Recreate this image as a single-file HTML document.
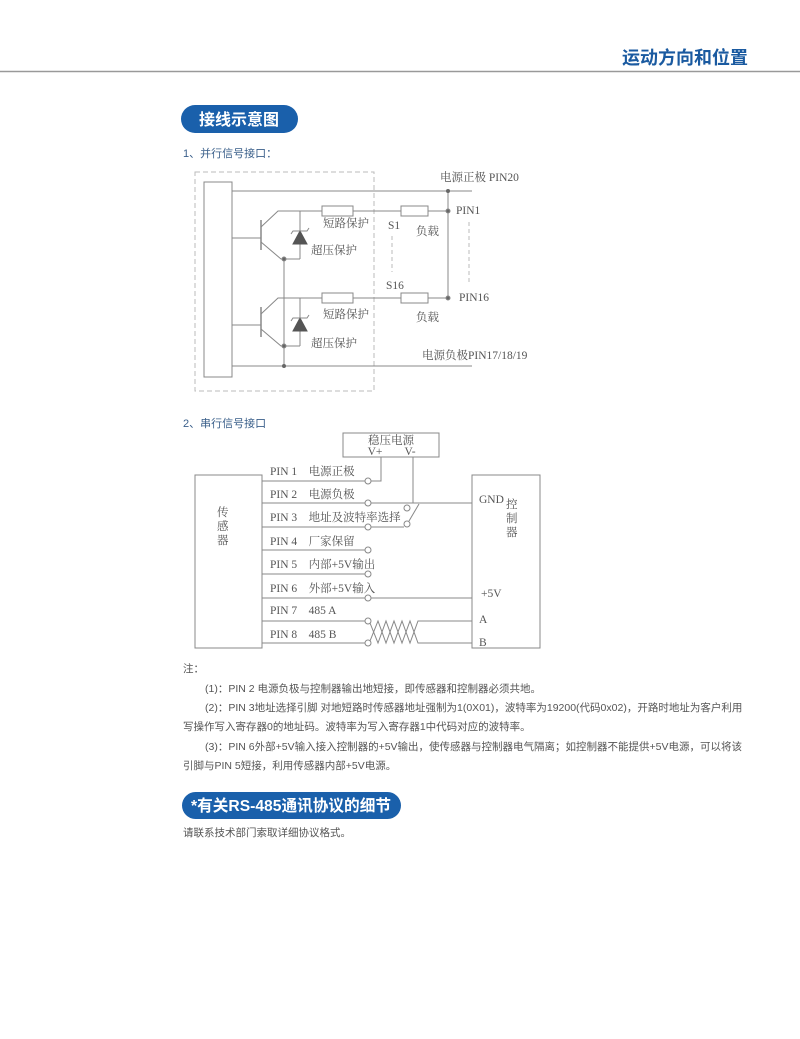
<!DOCTYPE html>
<html><head><meta charset="utf-8"><style>
body{margin:0;background:#fff;}
svg{display:block;}
.s{font-family:"Liberation Serif","Noto Serif CJK SC",serif;font-size:11.5px;fill:#555;}
.t{font-family:"Liberation Sans","Noto Sans CJK SC",sans-serif;}
</style></head><body>
<svg width="800" height="1039" viewBox="0 0 800 1039" xmlns="http://www.w3.org/2000/svg">
<rect width="800" height="1039" fill="#fff"/>
<text x="748" y="64" text-anchor="end" class="t" font-size="18" font-weight="bold" fill="#1a5aa0">运动方向和位置</text>
<line x1="0" y1="71.5" x2="800" y2="71.5" stroke="#999" stroke-width="1.5"/>
<rect x="181" y="105" width="117" height="28" rx="14" fill="#1a60ab"/>
<text x="239" y="125" text-anchor="middle" class="t" font-size="16" font-weight="bold" fill="#fff">接线示意图</text>
<text x="183" y="157" class="t" font-size="11" fill="#3a5f8a">1、并行信号接口：</text>

<g stroke="#888" stroke-width="1" fill="none">
<rect x="195" y="172" width="179" height="219" stroke-dasharray="5,3" stroke="#bbb"/>
<rect x="204" y="182" width="28" height="195"/>
<line x1="232" y1="191" x2="472" y2="191"/>
<line x1="232" y1="366" x2="472" y2="366"/>
<line x1="448" y1="191" x2="448" y2="297"/>
<line x1="284" y1="259" x2="284" y2="366"/>
<line x1="392" y1="236" x2="392" y2="272" stroke-dasharray="4,3" stroke="#bbb"/>
<line x1="469" y1="222" x2="469" y2="285" stroke-dasharray="4,3" stroke="#bbb"/>
</g>
<g id="ch" stroke="#888" stroke-width="1" fill="none">
<line x1="232" y1="238" x2="261" y2="238"/>
<line x1="261" y1="220" x2="261" y2="250" stroke-width="1.5"/>
<polyline points="261,227 278,211 322,211"/>
<polyline points="261,242 281,259 300,259"/>
<rect x="322" y="206" width="31" height="10"/>
<line x1="353" y1="211" x2="401" y2="211"/>
<rect x="401" y="206" width="27" height="10"/>
<line x1="428" y1="211" x2="448" y2="211"/>
<line x1="300" y1="211" x2="300" y2="259"/>
<polygon points="300,231 293,244 307,244" fill="#555" stroke="#555"/>
<polyline points="291,234 293,231 307,231 309,228"/>
<circle cx="284" cy="259" r="2" fill="#666"/>
<circle cx="448" cy="211" r="2" fill="#666"/>
</g>
<use href="#ch" transform="translate(0,87)"/>
<circle cx="448" cy="191" r="2" fill="#666"/>
<circle cx="284" cy="366" r="2" fill="#666"/>
<text x="440" y="181" class="s">电源正极 PIN20</text>
<text x="456" y="214" class="s">PIN1</text>
<text x="459" y="301" class="s">PIN16</text>
<text x="323" y="227" class="s">短路保护</text>
<text x="311" y="254" class="s">超压保护</text>
<text x="323" y="318" class="s">短路保护</text>
<text x="311" y="347" class="s">超压保护</text>
<text x="388" y="229" class="s">S1</text>
<text x="386" y="289" class="s">S16</text>
<text x="416" y="235" class="s">负载</text>
<text x="416" y="321" class="s">负载</text>
<text x="422" y="359" class="s">电源负极PIN17/18/19</text>

<text x="183" y="427" class="t" font-size="11" fill="#3a5f8a">2、串行信号接口</text>
<g stroke="#888" stroke-width="1" fill="none">
<rect x="343" y="433" width="96" height="24"/>
<rect x="195" y="475" width="67" height="173"/>
<rect x="472" y="475" width="68" height="173"/>
<line x1="262" y1="481" x2="365" y2="481"/>
<polyline points="371,481 381,481 381,457"/>
<line x1="262" y1="503" x2="365" y2="503"/>
<line x1="371" y1="503" x2="472" y2="503"/>
<line x1="413" y1="457" x2="413" y2="503"/>
<line x1="262" y1="527" x2="365" y2="527"/>
<line x1="371" y1="527" x2="404" y2="527"/>
<circle cx="407" cy="508" r="3"/>
<circle cx="407" cy="524" r="3"/>
<line x1="409" y1="521" x2="419" y2="504"/>
<line x1="262" y1="550" x2="365" y2="550"/>
<line x1="262" y1="574" x2="365" y2="574"/>
<line x1="262" y1="598" x2="365" y2="598"/>
<line x1="371" y1="598" x2="472" y2="598"/>
<line x1="262" y1="621" x2="365" y2="621"/>
<line x1="262" y1="643" x2="365" y2="643"/>
<circle cx="368" cy="481" r="3"/><circle cx="368" cy="503" r="3"/><circle cx="368" cy="527" r="3"/>
<circle cx="368" cy="550" r="3"/><circle cx="368" cy="574" r="3"/><circle cx="368" cy="598" r="3"/>
<circle cx="368" cy="621" r="3"/><circle cx="368" cy="643" r="3"/>
<polyline points="370,623 378,643 386,621 394,643 402,621 410,643 418,621 427,621 472,621"/>
<polyline points="370,641 378,621 386,643 394,621 402,643 410,621 418,643 427,643 472,643"/>
</g>
<text x="391" y="444" text-anchor="middle" class="s">稳压电源</text>
<text x="375" y="455" text-anchor="middle" class="s" font-size="9">V+</text>
<text x="410" y="455" text-anchor="middle" class="s" font-size="9">V-</text>
<text class="s" x="217" y="516">传</text><text class="s" x="217" y="530">感</text><text class="s" x="217" y="544">器</text>
<text class="s" x="506" y="508">控</text><text class="s" x="506" y="522">制</text><text class="s" x="506" y="536">器</text>
<text class="s" x="479" y="503" font-size="10">GND</text>
<text class="s" x="481" y="597" font-size="10">+5V</text>
<text class="s" x="479" y="623" font-size="10">A</text>
<text class="s" x="479" y="646" font-size="10">B</text>
<g class="s" font-size="10">
<text x="270" y="475">PIN 1　电源正极</text>
<text x="270" y="498">PIN 2　电源负极</text>
<text x="270" y="521">PIN 3　地址及波特率选择</text>
<text x="270" y="545">PIN 4　厂家保留</text>
<text x="270" y="568">PIN 5　内部+5V输出</text>
<text x="270" y="592">PIN 6　外部+5V输入</text>
<text x="270" y="614">PIN 7　485 A</text>
<text x="270" y="638">PIN 8　485 B</text>
</g>

<g class="t" font-size="10.5" fill="#555">
<text x="183" y="672">注：</text>
<text x="205" y="692">(1)：PIN 2 电源负极与控制器输出地短接，即传感器和控制器必须共地。</text>
<text x="205" y="711">(2)：PIN 3地址选择引脚 对地短路时传感器地址强制为1(0X01)，波特率为19200(代码0x02)，开路时地址为客户利用</text>
<text x="183" y="730">写操作写入寄存器0的地址码。波特率为写入寄存器1中代码对应的波特率。</text>
<text x="205" y="750">(3)：PIN 6外部+5V输入接入控制器的+5V输出，使传感器与控制器电气隔离；如控制器不能提供+5V电源，可以将该</text>
<text x="183" y="769">引脚与PIN 5短接，利用传感器内部+5V电源。</text>
</g>
<rect x="182" y="792" width="219" height="27" rx="13.5" fill="#1a60ab"/>
<text x="291" y="811" text-anchor="middle" class="t" font-size="16" font-weight="bold" fill="#fff" textLength="200" lengthAdjust="spacingAndGlyphs">*有关RS-485通讯协议的细节</text>
<text x="183" y="836" class="t" font-size="10.5" fill="#555">请联系技术部门索取详细协议格式。</text>
</svg>
</body></html>
